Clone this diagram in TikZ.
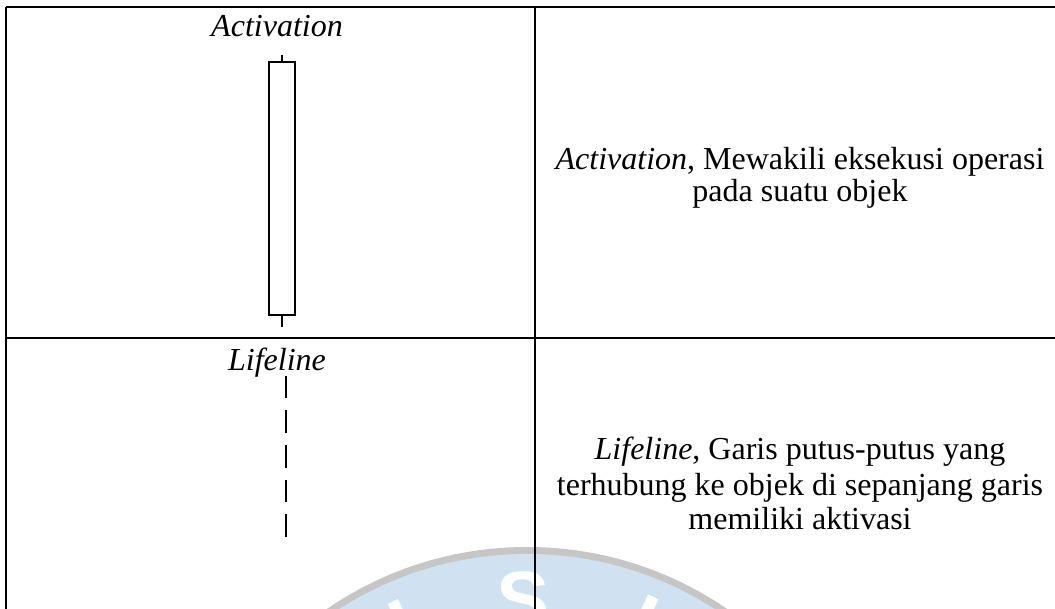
\documentclass[tikz,border=0pt]{standalone}
\usepackage{fontspec}
\setmainfont{Liberation Serif}
\newfontfamily\wmfont{Liberation Sans}
\definecolor{wmblue}{RGB}{208,225,242}
\definecolor{wmgray}{RGB}{198,198,198}
\begin{document}
\begin{tikzpicture}[x=1pt,y=-1pt,
  tline/.style={line width=1.7pt, black},
  shapeline/.style={line width=1.4pt, black},
  actbox/.style={draw, line width=1.4pt, minimum width=26pt, minimum height=253pt, inner sep=0pt, fill=white},
  lifedash/.style={line width=1.9pt, dash pattern=on 22.5pt off 12pt},
  lbl/.style={font=\fontsize{32}{36}\selectfont\itshape, inner sep=0pt, anchor=base},
  desc/.style={font=\fontsize{32}{36}\selectfont, inner sep=0pt, anchor=base},
  wmletter/.style={font=\wmfont\bfseries\fontsize{80}{80}\selectfont, text=white, inner sep=0pt, anchor=base}]
\useasboundingbox (0,0) rectangle (1055,609);
% watermark
\begin{scope}
  \clip (0,0) rectangle (1055,609);
  \fill[wmgray] (527,901) circle (354);
  \fill[wmblue] (527,901) circle (347);
  \node[wmletter, rotate=25] (wmA) at (417,652) {I};
  \node[wmletter] (wmB) at (523,627) {S};
  \node[wmletter, rotate=-25] (wmC) at (631,647) {I};
\end{scope}
% table rules
\draw[tline] (6,7) -- (1055,7);
\draw[tline] (6,338) -- (1055,338);
\draw[tline] (6,7) -- (6,609);
\draw[tline] (535,7) -- (535,609);
% row 1, left
\node[lbl] (actlabel) at (277,37) {Activation};
\node[actbox] (act) at (282,188.5) {};
\coordinate (acttop) at (282,55);
\coordinate (actbot) at (282,327);
\draw[shapeline] (act.north) -- (acttop);
\draw[shapeline] (act.south) -- (actbot);
% row 1, right
\node[desc] (actd1) at (800,170) {\textit{Activation}, Mewakili eksekusi operasi};
\node[desc] (actd2) at (800,202) {pada suatu objek};
% row 2, left
\node[lbl] (lifelabel) at (277,371) {Lifeline};
\coordinate (lifetop) at (286,376);
\coordinate (lifebot) at (286,537);
\draw[lifedash] (lifetop) -- (lifebot);
% row 2, right
\node[desc] (lifed1) at (800,460) {\textit{Lifeline}, Garis putus-putus yang};
\node[desc] (lifed2) at (800,495) {terhubung ke objek di sepanjang garis};
\node[desc] (lifed3) at (800,529) {memiliki aktivasi};
\end{tikzpicture}
\end{document}
